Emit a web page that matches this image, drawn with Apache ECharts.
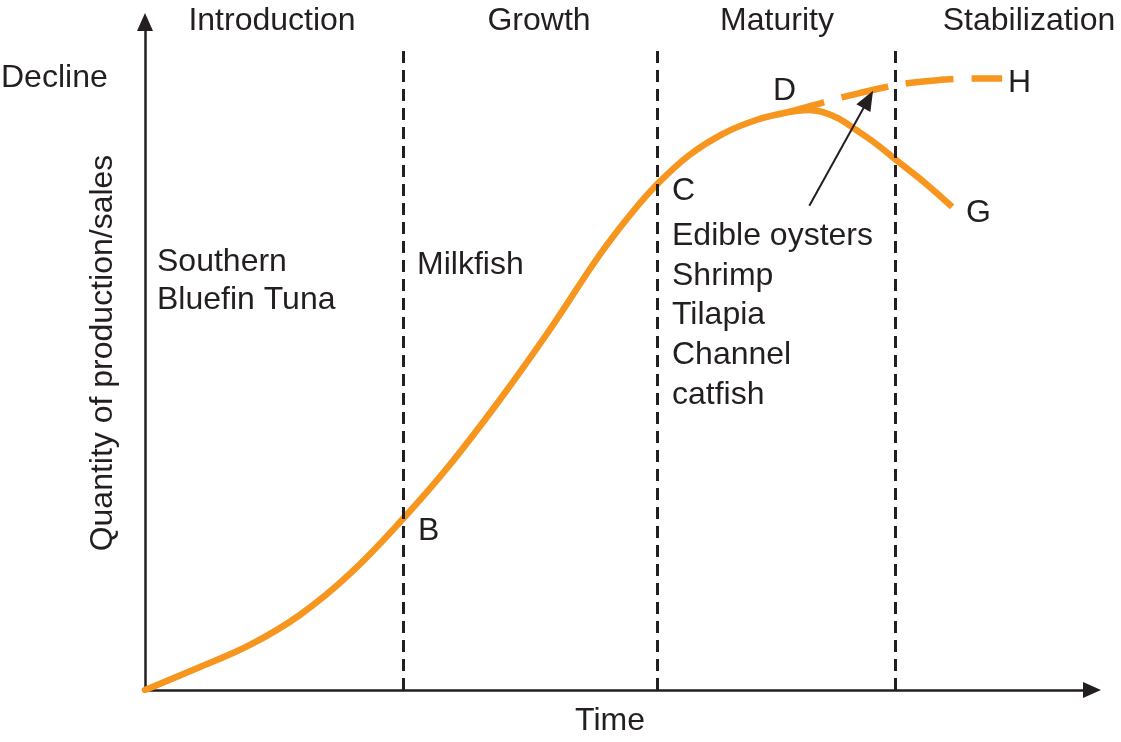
<!DOCTYPE html>
<html>
<head>
<meta charset="utf-8">
<script src="https://cdn.jsdelivr.net/npm/echarts@6/dist/echarts.min.js"></script>
<style>
html,body{margin:0;padding:0;background:#fff;}
#chart{width:1121px;height:742px;}
</style>
</head>
<body>
<div id="chart"></div>
<script>
// Main (sigmoid) curve: time (0-100) vs quantity (0-100)
var growthTime = [0, 5.80, 11.08, 16.35, 21.62, 27.32, 32.17, 37.45, 42.72, 48.0, 51.48, 54.11, 57.49, 60.97, 64.56, 68.04, 70.15];
var growthQty  = [0, 3.44, 6.74, 11.23, 17.37, 25.75, 33.68, 43.41, 53.89, 65.12, 71.56, 75.75, 80.09, 83.23, 85.33, 86.53, 86.83];
// Decline branch (D -> G)
var declineTime = [70.15, 71.52, 73.31, 75.11, 77.22, 79.32, 82.49, 85.23];
var declineQty  = [86.83, 86.53, 85.48, 83.83, 81.74, 79.34, 75.75, 72.31];
// Stabilization branch (D -> H), dashed
var stableTime = [68.04, 71.41, 73.31, 75.95, 78.27, 80.70, 83.33, 85.65, 88.08, 90.51];
var stableQty  = [86.53, 87.87, 88.62, 89.52, 90.27, 90.87, 91.24, 91.47, 91.54, 91.54];
// Stage boundaries (time) and stage names
var stageBounds = [27.32, 54.11, 79.22];
var stageTop = 96.4;
var stageNames = ["Introduction", "Growth", "Maturity", "Stabilization"];
// Arrow pointing from "Edible oysters" to the stabilization branch
var arrowFrom = [70.15, 72.5];
var arrowTo = [76.37, 88.4];

var INK = '#231f20';
var ORANGE = '#f7961e';
var FONT = '"Liberation Sans", Arial, Helvetica, sans-serif';
var FS = 32;

function zip(a, b) { return a.map(function (v, i) { return [v, b[i]]; }); }

var chart = echarts.init(document.getElementById('chart'), null, {renderer: 'canvas'});

var markLines = stageBounds.map(function (t) {
  return [{coord: [t, 0]}, {coord: [t, stageTop]}];
});

function txt(str, x, y, align) {
  return {
    type: 'text', x: x, y: y, silent: true,
    style: {text: str, fill: INK, font: FS + 'px ' + FONT, align: align || 'left', verticalAlign: 'middle'}
  };
}

var stageX = [272, 539, 777, 1029];
var graphics = stageNames.map(function (n, i) { return txt(n, stageX[i], 21, 'center'); });
graphics = graphics.concat([
  txt('Decline', 1, 78),
  txt('Time', 610, 721, 'center'),
  {
    type: 'text', x: 103, y: 353, rotation: Math.PI / 2, silent: true,
    style: {text: 'Quantity of production/sales', fill: INK, font: FS + 'px ' + FONT, align: 'center', verticalAlign: 'middle'}
  },
  txt('Southern', 157, 262),
  txt('Bluefin Tuna', 157, 300),
  txt('Milkfish', 417, 265),
  txt('B', 418, 531),
  txt('C', 672, 191),
  txt('Edible oysters', 672, 236),
  txt('Shrimp', 672, 276),
  txt('Tilapia', 672, 315),
  txt('Channel', 672, 355),
  txt('catfish', 672, 395),
  txt('D', 773, 91),
  txt('H', 1008, 83),
  txt('G', 966, 213)
]);

var option = {
  animation: false,
  backgroundColor: '#fff',
  grid: {left: 145, right: 29, top: 22, bottom: 52, containLabel: false},
  xAxis: {
    type: 'value', min: 0, max: 100,
    axisLine: {show: true, lineStyle: {color: INK, width: 2.5}, symbol: ['none', 'triangle'], symbolSize: [16, 18]},
    axisTick: {show: false}, axisLabel: {show: false}, splitLine: {show: false}
  },
  yAxis: {
    type: 'value', min: 0, max: 100,
    axisLine: {show: true, lineStyle: {color: INK, width: 2.5}, symbol: ['none', 'triangle'], symbolSize: [16, 18]},
    axisTick: {show: false}, axisLabel: {show: false}, splitLine: {show: false}
  },
  series: [
    {
      type: 'line', data: zip(growthTime, growthQty), smooth: 0.4, showSymbol: false, z: 3,
      lineStyle: {color: ORANGE, width: 6.5, cap: 'round'},
      markLine: {
        silent: true, symbol: 'none', label: {show: false},
        lineStyle: {color: INK, width: 3, type: [12, 7]},
        data: markLines
      }
    },
    {
      type: 'line', data: zip(declineTime, declineQty), smooth: 0.4, showSymbol: false, z: 3,
      lineStyle: {color: ORANGE, width: 6.5},
      markLine: {
        silent: true, symbol: ['none', 'triangle'], symbolSize: [16, 20], label: {show: false},
        lineStyle: {color: INK, width: 2, type: 'solid'},
        data: [[{coord: arrowFrom}, {coord: arrowTo}]]
      }
    },
    {
      type: 'line', data: zip(stableTime, stableQty), smooth: 0.4, showSymbol: false, z: 3,
      lineStyle: {color: ORANGE, width: 6.5, type: [48, 18], dashOffset: 12}
    }
  ],
  graphic: graphics
};
chart.setOption(option);
</script>
</body>
</html>
